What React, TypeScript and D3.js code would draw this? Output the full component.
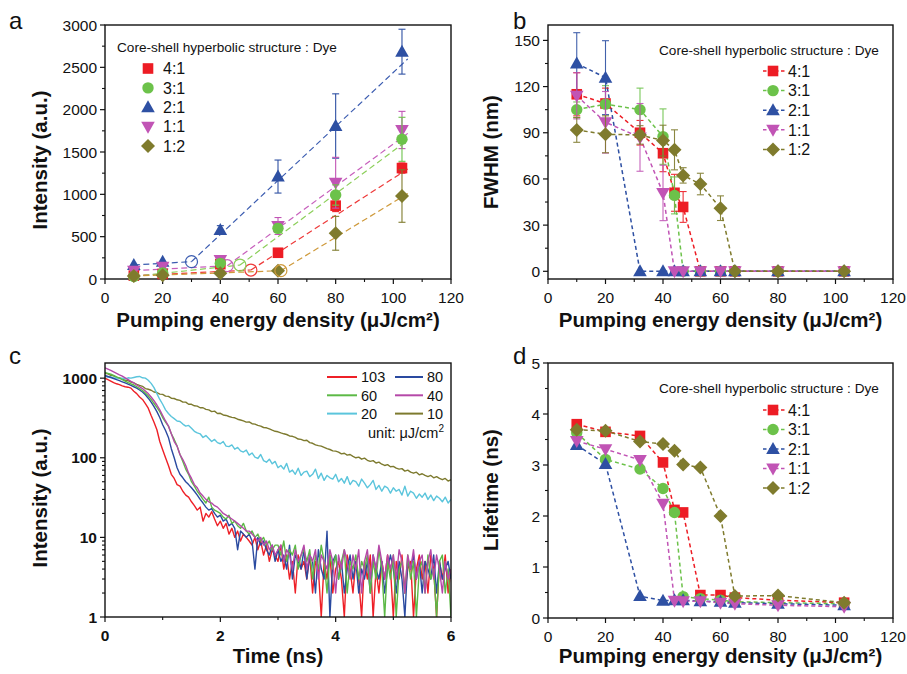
import React from 'react';
import * as d3 from 'd3';

const FONT = "'Liberation Sans', Arial, Helvetica, sans-serif";

// ---------------- shared series info ----------------
const RATIO_LABELS = ['4:1', '3:1', '2:1', '1:1', '1:2'];
const RATIO_COLORS = ['#ed1c24', '#6cc24a', '#2e50a3', '#c154b5', '#7f7b2d'];
const RATIO_SHAPES = ['square', 'circle', 'triangle', 'triangleDown', 'diamond'];
const A_LINE_COLORS = ['#ee3a3a', '#8ccf5a', '#3b5cb0', '#c75fbc', '#cf9a3c'];
const LEGEND_TITLE = 'Core-shell hyperbolic structure : Dye';

// ---------------- panel a : intensity ----------------
const A_ENERGY = [10, 20, 40, 60, 80, 103];
const A_INT = [
  [40, 60, 175, 310, 866, 1310],     // 4:1
  [30, 70, 185, 598, 992, 1650],     // 3:1
  [165, 205, 580, 1210, 1807, 2685], // 2:1
  [98, 145, 225, 626, 1137, 1760],   // 1:1
  [35, 44, 67, 98, 540, 980],        // 1:2
];
const A_ERR = [
  [0, 0, 0, 40, 70, 60],
  [0, 0, 40, 50, 120, 260],
  [0, 0, 50, 195, 380, 265],
  [0, 0, 30, 100, 300, 220],
  [0, 0, 0, 0, 200, 310],
];
const A_THRESH_X = [50.6, 46.8, 30, 42.4, 61];
const A_THRESH_Y = [106, 165, 205, 157, 98];
const A_FIT_END_X = 105;
const A_FIT_END_Y = [1300, 1640, 2600, 1720, 1010];
const A_DRAW_ORDER = [2, 0, 3, 1, 4];

// ---------------- panel b : FWHM ----------------
const B_ENERGY = [10, 20, 32, 40, 44, 47, 53, 60, 65, 80, 103];
const B_FWHM = [
  [115, 109, 90, 76.7, 51, 41.8, 0, 0, 0, 0, 0],
  [105, 108.6, 105, 87.5, 49.3, 0, 0, 0, 0, 0, 0],
  [135, 125.8, 0, 0, 0, 0, 0, 0, 0, 0, 0],
  [114, 96.8, 87, 50.9, 0, 0, 0, 0, 0, 0, 0],
  [91.8, 89, 88.6, 84.9, 78.9, 62.3, 56.7, 41, 0, 0, 0],
];
const B_ERR = [
  [14, 10, 8, 12, 12, 10, 0, 0, 0, 0, 0],
  [5, 12, 14, 18, 12, 0, 0, 0, 0, 0, 0],
  [20, 24, 0, 0, 0, 0, 0, 0, 0, 0, 0],
  [15, 20, 22, 18, 0, 0, 0, 0, 0, 0, 0],
  [8, 12, 6, 10, 13, 5, 7, 8, 0, 0, 0],
];

// ---------------- panel d : lifetime ----------------
const D_ENERGY = [10, 20, 32, 40, 44, 47, 53, 60, 65, 80, 103];
const D_LIFE = [
  [3.8, 3.65, 3.57, 3.05, 2.12, 2.07, 0.45, 0.45, 0.4, 0.35, 0.3],
  [3.63, 3.11, 2.92, 2.54, 2.07, 0.42, 0.38, 0.35, 0.32, 0.3, 0.28],
  [3.39, 3.02, 0.43, 0.34, 0.35, 0.35, 0.33, 0.32, 0.3, 0.28, 0.25],
  [3.47, 3.31, 3.1, 2.24, 0.34, 0.33, 0.33, 0.3, 0.28, 0.25, 0.22],
  [3.69, 3.67, 3.46, 3.41, 3.28, 3.01, 2.95, 2.0, 0.43, 0.44, 0.3],
];

// ---------------- panel c : decay curves ----------------
const C_TIME_STEP = 0.05;
const C_LABELS = ['103', '80', '60', '40', '20', '10'];
const C_COLORS = ['#ee2027', '#2a4aa0', '#5cb946', '#b548a8', '#5bc5dc', '#7d7a2e'];
const C_103 = [1000,960,920,880,850,830,800,780,770,750,
  685,640,580,540,480,420,340,280,225,160,
  126,100,80,62,55,46,44,38,34,32,
  28,25,22,24,16,20,18,21,17,14,
  16,13,15,11,13,10,12,9,11,10,
  9,8,10,7,9,6,8,5,7,6,
  5,8,4,6,3,5,2,6,4,5,
  3,6,2,5,4,1,5,3,6,2,
  4,5,3,1,6,4,2,5,3,1,
  5,3,6,1,4,2,5,3,6,4,
  1,5,3,6,2,4,5,1,4,6,
  3,5,2,6,4,1,5,3,6,2,
  4];
const C_80 = [1080,1050,1020,990,960,930,900,870,840,810,
  780,750,710,670,620,560,500,440,380,320,
  260,220,180,130,100,75,62,56,50,46,
  42,38,34,30,27,24,22,23,20,18,
  19,16,17,14,15,13,7,12,11,10,
  11,9,4,10,8,9,7,6,8,5,
  7,5,6,4,8,3,6,5,4,7,
  3,6,5,2,7,4,3,12,1,5,
  6,3,5,2,4,6,3,5,2,4,
  3,5,2,6,4,3,5,2,4,6,
  4,2,5,3,1,5,4,6,3,5,
  2,5,4,3,6,2,5,3,4,5,
  3];
const C_60 = [1180,1150,1120,1080,1040,1000,960,920,880,850,
  820,780,740,700,650,600,540,480,430,380,
  320,280,250,200,170,140,110,90,72,62,
  50,44,38,34,30,27,32,24,22,21,
  20,18,17,19,15,16,14,13,15,12,
  11,12,10,11,9,10,8,9,7,8,
  8,6,9,5,7,6,8,4,6,7,
  5,7,3,6,4,8,5,2,6,4,
  6,3,5,7,2,5,4,6,3,5,
  4,6,2,5,3,7,4,1,5,3,
  6,1,4,5,2,6,3,5,1,4,
  5,2,6,3,4,1,5,6,2,4,
  1];
const C_40 = [1350,1300,1250,1200,1150,1100,1060,1010,960,910,
  870,820,780,740,690,640,580,520,460,400,
  340,290,250,200,160,140,110,95,80,64,
  55,46,42,36,33,30,28,27,25,24,
  22,20,19,18,17,16,15,14,13,12,
  12,11,10,9,10,8,9,7,8,6,
  7,8,5,7,6,4,7,5,6,8,
  4,6,5,7,3,6,5,4,7,5,
  2,6,4,7,5,3,6,4,7,2,
  5,7,3,6,4,8,5,3,6,4,
  6,3,7,5,2,6,4,7,3,5,
  6,2,5,7,3,6,4,2,5,3,
  4];
const C_20 = [1050,1030,1040,1000,1010,990,1000,980,1010,1000,
  1020,1040,1050,1010,1000,940,860,760,640,540,
  470,400,360,330,310,290,285,265,250,255,
  235,215,205,200,180,190,175,160,170,155,
  150,160,140,138,145,128,135,122,118,125,
  108,115,102,98,110,92,88,96,84,90,
  75,80,72,85,66,70,62,74,60,66,
  68,58,62,72,55,64,52,60,56,54,
  62,50,55,48,58,46,52,50,44,54,
  48,42,46,52,40,45,38,44,42,36,
  42,38,40,34,44,33,38,36,31,35,
  32,36,30,34,29,33,31,28,32,27,
  30];
const C_10 = [1150,1130,1085,1070,1020,1005,980,940,930,890,
  875,835,810,790,740,725,705,670,660,630,
  625,595,590,560,555,535,525,500,500,470,
  470,450,445,425,425,405,400,380,385,360,
  362,345,340,330,322,318,305,298,290,280,
  282,268,265,255,250,240,238,230,222,215,
  212,205,200,196,188,186,180,172,170,164,
  166,155,152,145,142,140,135,130,127,122,
  121,118,112,114,108,110,104,100,102,96,
  99,93,90,92,86,88,83,80,82,77,
  78,74,72,73,68,70,66,64,66,61,
  63,60,58,60,56,58,55,53,55,51,
  53];
const C_SERIES = [C_103, C_80, C_60, C_40, C_20, C_10];
const C_DRAW_ORDER = [5, 4, 0, 1, 2, 3];

// ---------------- ticks ----------------
const ENERGY_MAJOR = [0, 20, 40, 60, 80, 100, 120];
const ENERGY_MINOR = [10, 30, 50, 70, 90, 110];
const A_Y_MAJOR = [0, 500, 1000, 1500, 2000, 2500, 3000];
const A_Y_MINOR = [250, 750, 1250, 1750, 2250, 2750];
const B_Y_MAJOR = [0, 30, 60, 90, 120, 150];
const B_Y_MINOR = [15, 45, 75, 105, 135];
const C_X_MAJOR = [0, 2, 4, 6];
const C_X_MINOR = [1, 3, 5];
const C_Y_MAJOR = [1, 10, 100, 1000];
const C_Y_MINOR = [2, 3, 4, 5, 6, 7, 8, 9, 20, 30, 40, 50, 60, 70, 80, 90, 200, 300, 400, 500, 600, 700, 800, 900];
const D_Y_MAJOR = [0, 1, 2, 3, 4, 5];
const D_Y_MINOR = [0.5, 1.5, 2.5, 3.5, 4.5];

type Box = { l: number; r: number; t: number; b: number };
const BOX_A: Box = { l: 105, r: 451, t: 25, b: 279 };
const BOX_B: Box = { l: 548, r: 893, t: 25, b: 279 };
const BOX_C: Box = { l: 105, r: 451, t: 363, b: 617 };
const BOX_D: Box = { l: 548, r: 893, t: 363, b: 618 };

function Marker({ shape, x, y, color, s = 1 }: any) {
  switch (shape) {
    case 'square':
      return <rect x={x - 5.3 * s} y={y - 5.3 * s} width={10.6 * s} height={10.6 * s} fill={color} />;
    case 'circle':
      return <circle cx={x} cy={y} r={5.7 * s} fill={color} />;
    case 'triangle':
      return <polygon points={`${x},${y - 7 * s} ${x + 6.8 * s},${y + 5 * s} ${x - 6.8 * s},${y + 5 * s}`} fill={color} />;
    case 'triangleDown':
      return <polygon points={`${x},${y + 7 * s} ${x + 6.8 * s},${y - 5 * s} ${x - 6.8 * s},${y - 5 * s}`} fill={color} />;
    default:
      return <polygon points={`${x},${y - 7 * s} ${x + 7 * s},${y} ${x},${y + 7 * s} ${x - 7 * s},${y}`} fill={color} />;
  }
}

function Axes({ box, x, y, xMajor, xMinor, yMajor, yMinor, xFmt, yFmt, bold }: any) {
  const fw = bold ? 'bold' : 'normal';
  const fs = 15.5;
  return (
    <g fontFamily={FONT}>
      <rect x={box.l} y={box.t} width={box.r - box.l} height={box.b - box.t} fill="none" stroke="#111" strokeWidth={1.4} />
      {xMajor.map((v: number) => (
        <line key={'xM' + v} x1={x(v)} x2={x(v)} y1={box.b} y2={box.b + 5} stroke="#111" strokeWidth={1.2} />
      ))}
      {xMinor.map((v: number) => (
        <line key={'xm' + v} x1={x(v)} x2={x(v)} y1={box.b} y2={box.b + 3} stroke="#111" strokeWidth={1.1} />
      ))}
      {xMajor.map((v: number) => (
        <text key={'xt' + v} x={x(v)} y={box.b + 24} textAnchor="middle" fontSize={fs} fontWeight={fw} fill="#111">{xFmt(v)}</text>
      ))}
      {yMajor.map((v: number) => (
        <line key={'yM' + v} x1={box.l - 5} x2={box.l} y1={y(v)} y2={y(v)} stroke="#111" strokeWidth={1.2} />
      ))}
      {yMinor.map((v: number) => (
        <line key={'ym' + v} x1={box.l - 3} x2={box.l} y1={y(v)} y2={y(v)} stroke="#111" strokeWidth={1.1} />
      ))}
      {yMajor.map((v: number) => (
        <text key={'yt' + v} x={box.l - 8} y={y(v)} dy="0.36em" textAnchor="end" fontSize={fs} fontWeight={fw} fill="#111">{yFmt(v)}</text>
      ))}
    </g>
  );
}

function XTitle({ box, text, y }: any) {
  return (
    <text x={(box.l + box.r) / 2} y={y} textAnchor="middle" fontFamily={FONT} fontWeight="bold" fontSize={20.5} fill="#111">{text}</text>
  );
}
function YTitle({ x, y, text }: any) {
  return (
    <text transform={`translate(${x},${y}) rotate(-90)`} textAnchor="middle" fontFamily={FONT} fontWeight="bold" fontSize={20.5} fill="#111">{text}</text>
  );
}

const ENERGY_TITLE = 'Pumping energy density (\u03bcJ/cm\u00b2)';
const fmt = (v: number) => String(v);

function PanelA() {
  const x = d3.scaleLinear().domain([0, 120]).range([BOX_A.l, BOX_A.r]);
  const y = d3.scaleLinear().domain([0, 3000]).range([BOX_A.b, BOX_A.t]);
  const line = d3.line<[number, number]>().x((d) => x(d[0])).y((d) => y(d[1]));
  return (
    <g>
      <Axes box={BOX_A} x={x} y={y} xMajor={ENERGY_MAJOR} xMinor={ENERGY_MINOR} yMajor={A_Y_MAJOR} yMinor={A_Y_MINOR} xFmt={fmt} yFmt={fmt} />
      {A_DRAW_ORDER.map((i) => {
        const low: [number, number][] = [[A_ENERGY[0], A_INT[i][0]], [A_THRESH_X[i], A_THRESH_Y[i]]];
        const high: [number, number][] = [[A_THRESH_X[i], A_THRESH_Y[i]], [A_FIT_END_X, A_FIT_END_Y[i]]];
        return (
          <g key={'al' + i} fill="none" stroke={A_LINE_COLORS[i]} strokeWidth={1.2} strokeDasharray="6,3.5">
            <path d={line(low) || ''} />
            <path d={line(high) || ''} />
          </g>
        );
      })}
      {A_DRAW_ORDER.map((i) => (
        <g key={'am' + i}>
          {A_ENERGY.map((e, j) =>
            A_ERR[i][j] > 0 ? (
              <g key={j} stroke={RATIO_COLORS[i]} strokeWidth={1.1}>
                <line x1={x(e)} x2={x(e)} y1={y(A_INT[i][j] - A_ERR[i][j])} y2={y(A_INT[i][j] + A_ERR[i][j])} />
                <line x1={x(e) - 3.5} x2={x(e) + 3.5} y1={y(A_INT[i][j] - A_ERR[i][j])} y2={y(A_INT[i][j] - A_ERR[i][j])} />
                <line x1={x(e) - 3.5} x2={x(e) + 3.5} y1={y(A_INT[i][j] + A_ERR[i][j])} y2={y(A_INT[i][j] + A_ERR[i][j])} />
              </g>
            ) : null
          )}
          {A_ENERGY.map((e, j) => (
            <Marker key={'m' + j} shape={RATIO_SHAPES[i]} x={x(e)} y={y(A_INT[i][j])} color={RATIO_COLORS[i]} />
          ))}
          <circle cx={x(A_THRESH_X[i])} cy={y(A_THRESH_Y[i])} r={6} fill="none" stroke={A_LINE_COLORS[i]} strokeWidth={1.2} />
        </g>
      ))}
      <text x={117} y={52} fontFamily={FONT} fontSize={13.6} fill="#111">{LEGEND_TITLE}</text>
      {RATIO_LABELS.map((lab, i) => (
        <g key={'alg' + i}>
          <Marker shape={RATIO_SHAPES[i]} x={148} y={68.5 + i * 19.4} color={RATIO_COLORS[i]} />
          <text x={163} y={68.5 + i * 19.4} dy="0.36em" fontFamily={FONT} fontSize={16} fill="#111">{lab}</text>
        </g>
      ))}
      <XTitle box={BOX_A} text={ENERGY_TITLE} y={327} />
      <YTitle x={47} y={160} text="Intensity (a.u.)" />
      <text x={9} y={29} fontFamily={FONT} fontSize={24} fill="#111">a</text>
    </g>
  );
}

function RatioLegend({ x0, y0, step, title, titleY }: any) {
  return (
    <g fontFamily={FONT}>
      <text x={659} y={titleY} dy="0.36em" fontSize={13.6} fill="#111">{title}</text>
      {RATIO_LABELS.map((lab, i) => (
        <g key={'lg' + i}>
          <line x1={x0 - 10} x2={x0 + 12} y1={y0 + i * step} y2={y0 + i * step} stroke={RATIO_COLORS[i]} strokeWidth={1.5} strokeDasharray="3.5,2.5" />
          <Marker shape={RATIO_SHAPES[i]} x={x0} y={y0 + i * step} color={RATIO_COLORS[i]} />
          <text x={x0 + 15} y={y0 + i * step} dy="0.36em" fontSize={16} fill="#111">{lab}</text>
        </g>
      ))}
    </g>
  );
}

function PanelB() {
  const x = d3.scaleLinear().domain([0, 120]).range([BOX_B.l, BOX_B.r]);
  const y = d3.scaleLinear().domain([-5, 160]).range([BOX_B.b, BOX_B.t]);
  const line = d3.line<number>().x((_, j) => x(B_ENERGY[j])).y((d) => y(d));
  return (
    <g>
      <Axes box={BOX_B} x={x} y={y} xMajor={ENERGY_MAJOR} xMinor={ENERGY_MINOR} yMajor={B_Y_MAJOR} yMinor={B_Y_MINOR} xFmt={fmt} yFmt={fmt} />
      {B_FWHM.map((s, i) => (
        <path key={'bl' + i} d={line(s) || ''} fill="none" stroke={RATIO_COLORS[i]} strokeWidth={1.5} strokeDasharray="4,3" />
      ))}
      {B_FWHM.map((s, i) => (
        <g key={'bm' + i}>
          {s.map((v, j) =>
            B_ERR[i][j] > 0 ? (
              <g key={'e' + j} stroke={RATIO_COLORS[i]} strokeWidth={1.1} opacity={0.9}>
                <line x1={x(B_ENERGY[j])} x2={x(B_ENERGY[j])} y1={y(v - B_ERR[i][j])} y2={y(v + B_ERR[i][j])} />
                <line x1={x(B_ENERGY[j]) - 3.5} x2={x(B_ENERGY[j]) + 3.5} y1={y(v - B_ERR[i][j])} y2={y(v - B_ERR[i][j])} />
                <line x1={x(B_ENERGY[j]) - 3.5} x2={x(B_ENERGY[j]) + 3.5} y1={y(v + B_ERR[i][j])} y2={y(v + B_ERR[i][j])} />
              </g>
            ) : null
          )}
          {s.map((v, j) => (
            <Marker key={'m' + j} shape={RATIO_SHAPES[i]} x={x(B_ENERGY[j])} y={y(v)} color={RATIO_COLORS[i]} />
          ))}
        </g>
      ))}
      <RatioLegend x0={773} y0={71} step={19.6} title={LEGEND_TITLE} titleY={50} />
      <XTitle box={BOX_B} text={ENERGY_TITLE} y={327} />
      <YTitle x={498} y={152} text="FWHM (nm)" />
      <text x={513} y={29} fontFamily={FONT} fontSize={24} fill="#111">b</text>
    </g>
  );
}

function PanelC() {
  const x = d3.scaleLinear().domain([0, 6]).range([BOX_C.l, BOX_C.r]);
  const y = d3.scaleLog().domain([1, 1550]).range([BOX_C.b, BOX_C.t]);
  const line = d3.line<number>().x((_, j) => x(j * C_TIME_STEP)).y((d) => y(Math.max(d, 0.8)));
  const legendRows = [[0, 1], [2, 3], [4, 5]];
  return (
    <g>
      <defs>
        <clipPath id="clipC">
          <rect x={BOX_C.l} y={BOX_C.t} width={BOX_C.r - BOX_C.l} height={BOX_C.b - BOX_C.t} />
        </clipPath>
      </defs>
      <g clipPath="url(#clipC)">
        {C_DRAW_ORDER.map((i) => (
          <path key={'c' + i} d={line(C_SERIES[i]) || ''} fill="none" stroke={C_COLORS[i]} strokeWidth={1.4} strokeLinejoin="round" />
        ))}
      </g>
      <Axes box={BOX_C} x={x} y={y} xMajor={C_X_MAJOR} xMinor={C_X_MINOR} yMajor={C_Y_MAJOR} yMinor={C_Y_MINOR} xFmt={fmt} yFmt={fmt} bold />
      {legendRows.map((row, r) => (
        <g key={'cl' + r} fontFamily={FONT} fontSize={14.5} fill="#111">
          <line x1={327} x2={357} y1={377 + r * 18.3} y2={377 + r * 18.3} stroke={C_COLORS[row[0]]} strokeWidth={2} />
          <text x={361} y={377 + r * 18.3} dy="0.36em">{C_LABELS[row[0]]}</text>
          <line x1={395} x2={423} y1={377 + r * 18.3} y2={377 + r * 18.3} stroke={C_COLORS[row[1]]} strokeWidth={2} />
          <text x={427} y={377 + r * 18.3} dy="0.36em">{C_LABELS[row[1]]}</text>
        </g>
      ))}
      <text x={444} y={438} textAnchor="end" fontFamily={FONT} fontSize={14.5} fill="#111">
        unit: {'\u03bc'}J/cm<tspan dy="-6" fontSize={10}>2</tspan>
      </text>
      <XTitle box={BOX_C} text="Time (ns)" y={663} />
      <YTitle x={47} y={498} text="Intensity (a.u.)" />
      <text x={9} y={364} fontFamily={FONT} fontSize={24} fill="#111">c</text>
    </g>
  );
}

function PanelD() {
  const x = d3.scaleLinear().domain([0, 120]).range([BOX_D.l, BOX_D.r]);
  const y = d3.scaleLinear().domain([0, 5]).range([BOX_D.b, BOX_D.t]);
  const line = d3.line<number>().x((_, j) => x(D_ENERGY[j])).y((d) => y(d));
  return (
    <g>
      <Axes box={BOX_D} x={x} y={y} xMajor={ENERGY_MAJOR} xMinor={ENERGY_MINOR} yMajor={D_Y_MAJOR} yMinor={D_Y_MINOR} xFmt={fmt} yFmt={fmt} />
      {D_LIFE.map((s, i) => (
        <path key={'dl' + i} d={line(s) || ''} fill="none" stroke={RATIO_COLORS[i]} strokeWidth={1.5} strokeDasharray="4,3" />
      ))}
      {D_LIFE.map((s, i) => (
        <g key={'dm' + i}>
          {s.map((v, j) => (
            <Marker key={'m' + j} shape={RATIO_SHAPES[i]} x={x(D_ENERGY[j])} y={y(v)} color={RATIO_COLORS[i]} />
          ))}
        </g>
      ))}
      <RatioLegend x0={773} y0={410} step={19.5} title={LEGEND_TITLE} titleY={388} />
      <XTitle box={BOX_D} text={ENERGY_TITLE} y={663} />
      <YTitle x={498} y={490} text="Lifetime (ns)" />
      <text x={513} y={364} fontFamily={FONT} fontSize={24} fill="#111">d</text>
    </g>
  );
}

export default function App() {
  return (
    <svg width={907} height={674} viewBox="0 0 907 674" style={{ position: 'absolute', left: 0, top: 0, background: '#fff' }}>
      <rect x={0} y={0} width={907} height={674} fill="#fff" />
      <PanelA />
      <PanelB />
      <PanelC />
      <PanelD />
    </svg>
  );
}
